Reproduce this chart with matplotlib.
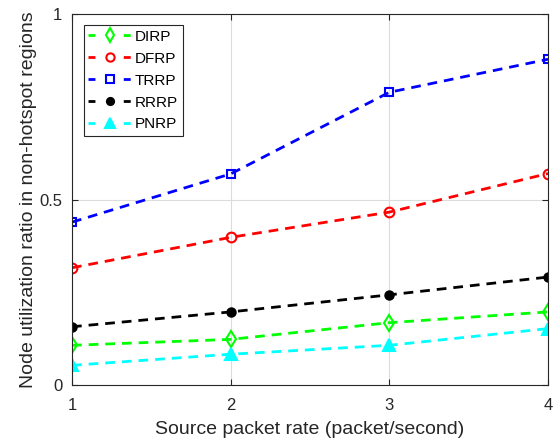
import matplotlib
matplotlib.use("Agg")
import matplotlib.pyplot as plt
from matplotlib.lines import Line2D

plt.rcParams['font.family'] = ['Liberation Sans', 'DejaVu Sans']

x = [1, 2, 3, 4]
labels = ['DIRP', 'DFRP', 'TRRP', 'RRRP', 'PNRP']
dirp = [0.107, 0.123, 0.168, 0.197]
dfrp = [0.316, 0.398, 0.466, 0.570]
trrp = [0.439, 0.569, 0.789, 0.878]
rrrp = [0.157, 0.197, 0.243, 0.291]
pnrp = [0.053, 0.083, 0.107, 0.152]
series = [dirp, dfrp, trrp, rrrp, pnrp]

colors = ['#00ff00', '#ff0000', '#0000ff', '#000000', '#00ffff']
markers = ['d', 'o', 's', 'o', '^']
msizes = [8, 7, 6, 6, 8]
filled = [False, False, False, True, True]

fig = plt.figure(figsize=(5.58, 4.42), dpi=100)
ax = fig.add_axes([72/558, 1-385/442, (548-72)/558, (385-14)/442])

lw = 2
dash = (3.5, 2.5)
handles = []
for ys, lab, c, m, ms, f in zip(series, labels, colors, markers, msizes, filled):
    ax.plot(x, ys, color=c, lw=lw, marker=m, ms=ms, mfc=c if f else 'none', mew=1.5,
            dashes=dash)
    handles.append(Line2D([], [], color=c, lw=lw, marker=m, ms=ms*0.85,
                          mfc=c if f else 'none', mew=1.5, dashes=(2.5, 10.2), label=lab))

ax.set_xlim(1, 4)
ax.set_ylim(0, 1)
ax.set_xticks([1, 2, 3, 4])
ax.set_yticks([0, 0.5, 1])
ax.set_yticklabels(['0', '0.5', '1'])
ax.grid(True, color='#dcdcdc', lw=0.8)
ax.set_axisbelow(True)
ax.tick_params(direction='in', labelsize=12, colors='#262626', length=4, top=True, right=True)
ax.tick_params(axis='x', pad=9)
ax.tick_params(axis='y', pad=7)
for s in ax.spines.values():
    s.set_color('#262626')
    s.set_linewidth(0.8)
ax.set_xlabel('Source packet rate (packet/second)', fontsize=14, color='#262626', labelpad=6)
ax.set_ylabel('Node utilization ratio in non-hotspot regions', fontsize=14, color='#262626', labelpad=1.5)

leg = ax.legend(handles=handles, loc='upper left', bbox_to_anchor=(0.025, 0.97), borderaxespad=0,
                fontsize=11, fancybox=False, edgecolor='#262626', framealpha=1,
                handlelength=2.85, borderpad=0.3, labelspacing=0.52, handletextpad=0.2)
leg.get_frame().set_linewidth(0.8)

fig.savefig('out.png', dpi=100)
